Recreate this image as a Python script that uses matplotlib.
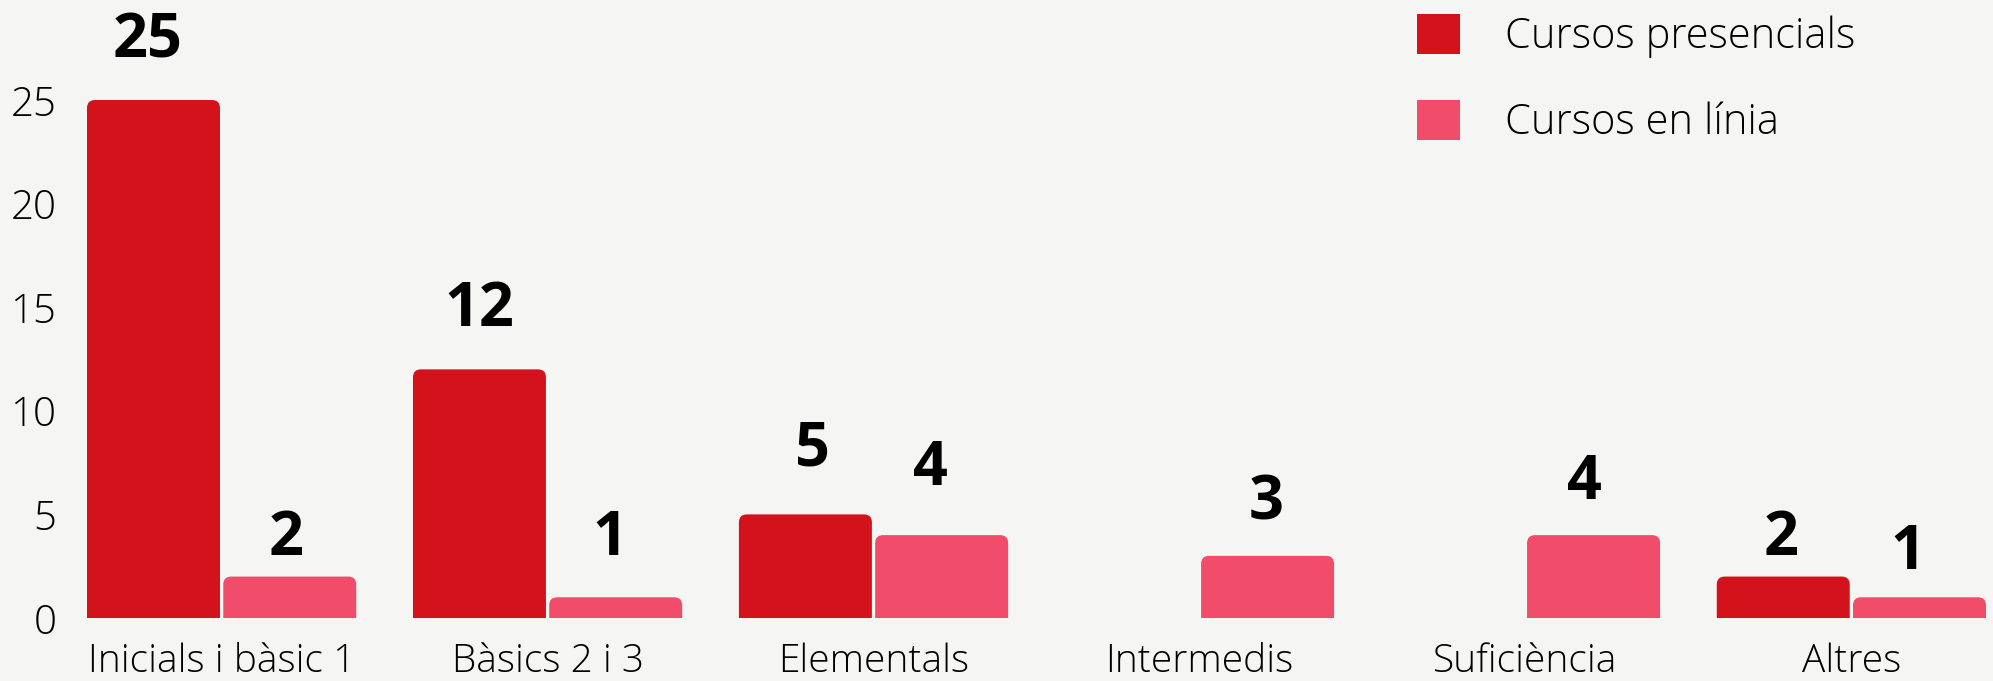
import matplotlib.pyplot as plt
from matplotlib.patches import FancyBboxPatch, Patch
import numpy as np

categories = ["Inicials i bàsic 1", "Bàsics 2 i 3", "Elementals",
              "Intermedis", "Suficiència", "Altres"]
presencials = [25, 12, 5, 0, 0, 2]
en_linia = [2, 1, 4, 3, 4, 1]
series_names = ["Cursos presencials", "Cursos en línia"]
y_ticks = [0, 5, 10, 15, 20, 25]

# label placement in pixels (gap above bar, sideways nudge), hand placed in the original
red_gap = [42, 43, 49, 0, 0, 22]
red_dx = [-6, 0, 7, 0, 0, -2]
pink_gap = [22, 42, 50, 36, 36, 28]
pink_dx = [-4, -6, -11, -1, -9, -12]

RED = "#D4121C"
PINK = "#F24C6B"
BG = "#F5F5F3"

W, H = 1993, 681
plt.rcParams["font.family"] = ["Open Sans", "DejaVu Sans"]

fig = plt.figure(figsize=(W / 100, H / 100), dpi=100)
fig.patch.set_facecolor(BG)

# axes placed in pixels: left 87, right 1986, baseline at 618 from top
left_px, right_px = 87, 1986
base_px = 618
top_px = 17
ax = fig.add_axes([left_px / W, (H - base_px) / H,
                   (right_px - left_px) / W, (base_px - top_px) / H])
ax.set_facecolor(BG)

x = np.arange(len(categories))
bw = 0.408
off = 0.209
ax.set_xlim(-off - bw / 2, len(categories) - 1 + off + bw / 2)
ymax = (base_px - top_px) / 20.72
ax.set_ylim(0, ymax)

px_x = (right_px - left_px) / (ax.get_xlim()[1] - ax.get_xlim()[0])
px_y = (base_px - top_px) / ymax
rad = 8 / px_x
aspect = px_x / px_y


def rounded_bar(xc, val, color):
    if val <= 0:
        return
    # start below zero so bottom corners are clipped square
    p = FancyBboxPatch((xc - bw / 2, -1), bw, val + 1,
                       boxstyle=f"round,pad=0,rounding_size={rad}",
                       mutation_aspect=aspect, fc=color, ec="none")
    ax.add_patch(p)


def value_label(xc, v, gap, dx):
    if v <= 0:
        return
    ax.annotate(str(v), (xc, v), xytext=(dx * 0.72, gap * 0.72),
                textcoords="offset points", ha="center", va="baseline",
                fontsize=44, fontweight="bold", color="black",
                annotation_clip=False)


for i, xi in enumerate(x):
    rounded_bar(xi - off, presencials[i], RED)
    rounded_bar(xi + off, en_linia[i], PINK)
    value_label(xi - off, presencials[i], red_gap[i], red_dx[i])
    value_label(xi + off, en_linia[i], pink_gap[i], pink_dx[i])

ax.set_xticks(x)
ax.set_xticklabels(categories, fontsize=28, fontweight="light")
ax.set_yticks(y_ticks)
ax.set_yticklabels([str(t) for t in y_ticks], fontsize=29, fontweight="light")
ax.tick_params(length=0)
ax.tick_params(axis="x", pad=18)
ax.tick_params(axis="y", pad=22)
for s in ax.spines.values():
    s.set_visible(False)

handles = [Patch(fc=RED, ec="none"), Patch(fc=PINK, ec="none")]
leg = fig.legend(handles, series_names, loc="upper left",
                 bbox_to_anchor=(1400 / W, 1 + 3 / H), frameon=False,
                 prop={"size": 30, "weight": "light"},
                 handlelength=1.03, handleheight=1.12, handletextpad=1.08,
                 labelspacing=1.0, borderaxespad=0)

fig.savefig("out.png", dpi=100, facecolor=BG)
